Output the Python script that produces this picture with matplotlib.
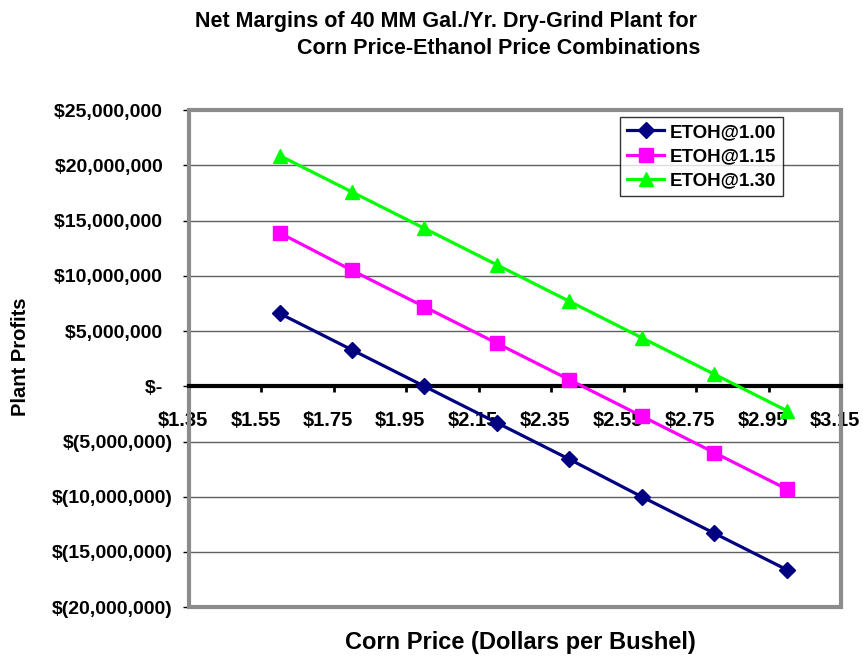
import numpy as np
import matplotlib
matplotlib.use("Agg")
import matplotlib.pyplot as plt
import matplotlib.transforms as mtransforms
from matplotlib.ticker import FuncFormatter, MultipleLocator
from matplotlib.patches import Rectangle

plt.rcParams['font.family'] = ['Liberation Sans', 'DejaVu Sans']

# data (corn price $/bu vs plant profit $)
corn_price = [1.60, 1.80, 2.00, 2.20, 2.40, 2.60, 2.80, 3.00]
etoh_100 = [6.6e6, 3.3e6, 0.0, -3.3e6, -6.6e6, -10.0e6, -13.3e6, -16.6e6]
etoh_115 = [13.9e6, 10.5e6, 7.2e6, 3.9e6, 0.6e6, -2.7e6, -6.0e6, -9.3e6]
etoh_130 = [20.9e6, 17.6e6, 14.3e6, 11.0e6, 7.7e6, 4.4e6, 1.1e6, -2.2e6]
series_names = ["ETOH@1.00", "ETOH@1.15", "ETOH@1.30"]
x_ticks = [1.35, 1.55, 1.75, 1.95, 2.15, 2.35, 2.55, 2.75, 2.95, 3.15]

fig = plt.figure(figsize=(8.63, 6.60), dpi=100)
ax = fig.add_axes([0.219, 0.080, 0.7555, 0.753])

ax.plot(corn_price, etoh_100, color="#000080", lw=2.3, marker="D", ms=8.5,
        label=series_names[0], zorder=5)
ax.plot(corn_price, etoh_115, color="#FF00FF", lw=2.3, marker="s", ms=9.5,
        label=series_names[1], zorder=5)
ax.plot(corn_price, etoh_130, color="#00FF00", lw=2.3, marker="^", ms=10.5,
        label=series_names[2], zorder=5)

ax.set_xlim(1.35, 3.15)
ax.set_ylim(-20e6, 25e6)
ax.set_xticks(x_ticks)
ax.set_xticklabels([f"${v:.2f}" for v in x_ticks])
ax.yaxis.set_major_locator(MultipleLocator(5e6))


# excel accounting style: positive values leave room for the ")"
def money(v, pos):
    if abs(v) < 1:
        return "$-  "
    if v < 0:
        return "$({:,.0f})".format(-v)
    return "${:,.0f}  ".format(v)


ax.yaxis.set_major_formatter(FuncFormatter(money))

ax.grid(axis="y", color="#606060", lw=1.0)
ax.set_axisbelow(True)

# x axis crosses at zero
ax.spines["bottom"].set_position(("data", 0))
ax.spines["bottom"].set_color("black")
ax.spines["bottom"].set_linewidth(3)
ax.spines["bottom"].set_zorder(4)
ax.spines["top"].set_visible(False)
ax.spines["right"].set_visible(False)
ax.spines["left"].set_color("#555555")
ax.spines["left"].set_linewidth(2)

# plot area frame
ax.add_patch(Rectangle((0, 0), 1, 1, transform=ax.transAxes, fill=False,
                       edgecolor="#8c8c8c", lw=3, clip_on=False, zorder=3))

ax.tick_params(axis="x", direction="out", length=4.5, width=2, pad=13,
               labelsize=14.5)
ax.tick_params(axis="y", direction="out", length=4.5, width=1, pad=7,
               labelsize=14)
# x labels sit a little left of their ticks, like in the excel original
shift = mtransforms.ScaledTranslation(-6 / 100, 0, fig.dpi_scale_trans)
for lab in ax.get_xticklabels():
    lab.set_transform(lab.get_transform() + shift)
for lab in ax.get_xticklabels() + ax.get_yticklabels():
    lab.set_fontweight("bold")

leg = ax.legend(loc="upper right", bbox_to_anchor=(0.911, 0.986), frameon=True,
                fancybox=False, edgecolor="black",
                prop={"weight": "bold", "size": 13.5}, handlelength=2.0,
                borderpad=0.35, labelspacing=0.38, handletextpad=0.3,
                borderaxespad=0)
leg.get_frame().set_linewidth(1)

fig.text(0.808, 0.968, "Net Margins of 40 MM Gal./Yr. Dry-Grind Plant for",
         ha="right", va="center", fontsize=15.5, fontweight="bold")
fig.text(0.811, 0.927, "Corn Price-Ethanol Price Combinations",
         ha="right", va="center", fontsize=15.5, fontweight="bold")

fig.text(0.603, 0.026, "Corn Price (Dollars per Bushel)", ha="center",
         va="center", fontsize=17, fontweight="bold")
fig.text(0.024, 0.459, "Plant Profits", ha="center", va="center",
         rotation=90, fontsize=14.5, fontweight="bold")

fig.savefig("out.png", dpi=100)
